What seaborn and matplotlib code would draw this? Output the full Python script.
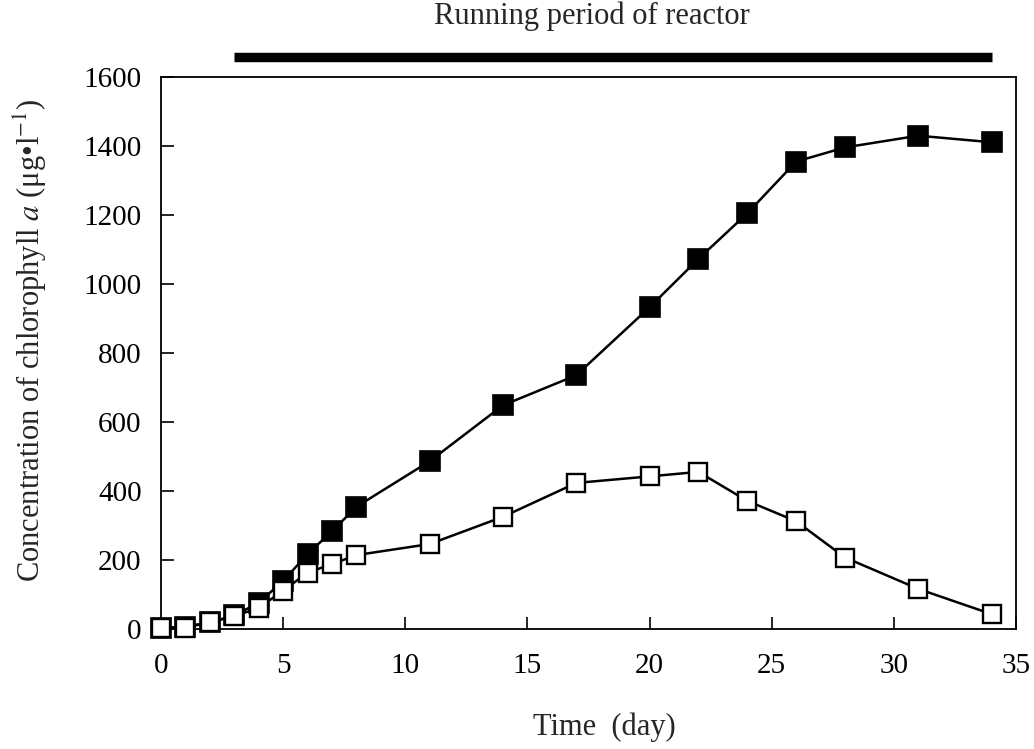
import matplotlib
matplotlib.use("Agg")
import matplotlib.pyplot as plt
import seaborn as sns
import pandas as pd

# ---- data ----
days = [0, 1, 2, 3, 4, 5, 6, 7, 8, 11, 14, 17, 20, 22, 24, 26, 28, 31, 34]
chl_filled = [3, 8, 20, 40, 77, 140, 218, 284, 355, 487, 649, 736, 933, 1073,
              1205, 1355, 1396, 1430, 1411]
chl_open = [5, 5, 20, 38, 62, 112, 164, 189, 215, 247, 326, 424, 443, 456,
            372, 313, 208, 117, 44]
running_period = [3, 34]
x_ticks = [0, 5, 10, 15, 20, 25, 30, 35]
y_ticks = [0, 200, 400, 600, 800, 1000, 1200, 1400, 1600]

df = pd.DataFrame({"day": days, "filled": chl_filled, "open": chl_open})

sns.set_style("ticks")
plt.rcParams["font.family"] = ["Liberation Serif", "DejaVu Serif"]
plt.rcParams["mathtext.fontset"] = "stix"

fig = plt.figure(figsize=(10.34, 7.49), dpi=100)
W, H = 1034, 749
ax = fig.add_axes([161 / W, 1 - 629.3 / H, (1016 - 161) / W, (629.3 - 77) / H])

sns.lineplot(data=df, x="day", y="filled", ax=ax, color="black", lw=1.8,
             marker="s", markersize=14.5, markerfacecolor="black",
             markeredgecolor="black", markeredgewidth=1.2, clip_on=False,
             zorder=3, estimator=None, sort=False)
sns.lineplot(data=df, x="day", y="open", ax=ax, color="black", lw=1.8,
             marker="s", markersize=13.5, markerfacecolor="white",
             markeredgecolor="black", markeredgewidth=1.7, clip_on=False,
             zorder=4, estimator=None, sort=False)

ax.set_xlim(0, 35)
ax.set_ylim(0, 1600)
ax.set_xticks(x_ticks)
ax.set_yticks(y_ticks)
ax.tick_params(direction="in", length=9, width=1.2, labelsize=21,
               colors="black")
ax.tick_params(axis="x", pad=17)
ax.tick_params(axis="y", pad=14)
for s in ax.spines.values():
    s.set_linewidth(1.3)
    s.set_color("black")

ax.set_xlabel("Time  (day)", fontsize=22)
ax.xaxis.set_label_coords((604 - 161) / (1016 - 161), -(727 - 629.3) / (629.3 - 77))
ax.xaxis.label.set_va("center")
ax.set_ylabel(r"Concentration of chlorophyll $a$ (μg•l$^{-1}$)", fontsize=22)
ax.yaxis.set_label_coords(-(161 - 30) / (1016 - 161), (629.3 - 340) / (629.3 - 77))
ax.yaxis.label.set_va("center")

# running period bar above the axes
ax.plot(running_period, [1.036, 1.036], transform=ax.get_xaxis_transform(),
        color="black", lw=6.8, solid_capstyle="butt", clip_on=False)
fig.text(592 / W, 1 - 16 / H, "Running period of reactor", fontsize=22,
         ha="center", va="center")

fig.savefig("out.png", dpi=100, facecolor="white")
